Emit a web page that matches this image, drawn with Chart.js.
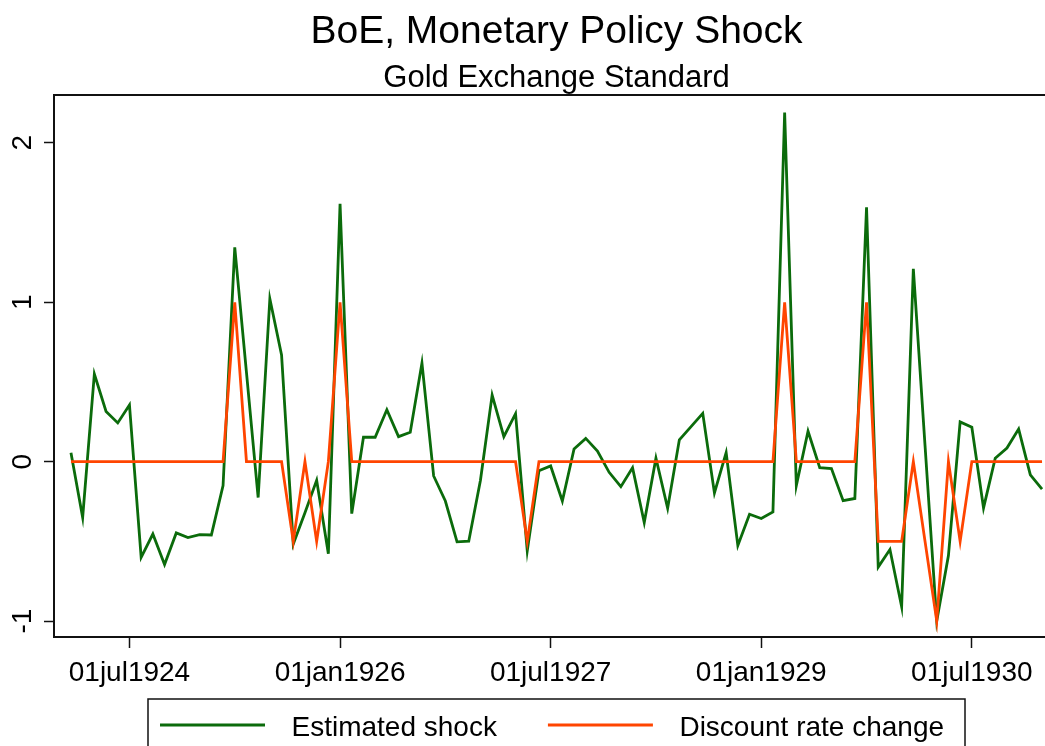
<!DOCTYPE html>
<html>
<head>
<meta charset="utf-8">
<script src="https://cdn.jsdelivr.net/npm/chart.js@4.4.1/dist/chart.umd.min.js"></script>
<style>
  html, body { margin: 0; padding: 0; background: #fff; overflow: hidden; }
  canvas { display: block; }
</style>
</head>
<body>
<canvas id="graph" width="1113" height="760"></canvas>
<script>
// one observation a month, index 0 = feb1924 ... 83 = jan1931
var titleText = 'BoE, Monetary Policy Shock';
var subtitleText = 'Gold Exchange Standard';

var shock = [
  0.056, -0.35, 0.55, 0.315, 0.243, 0.355, -0.60, -0.454, -0.645, -0.447,
  -0.476, -0.458, -0.46, -0.15, 1.344, 0.56, -0.225, 1.022, 0.67, -0.517,
  -0.32, -0.117, -0.578, 1.618, -0.326, 0.153, 0.153, 0.326, 0.157, 0.184,
  0.618, -0.09, -0.247, -0.503, -0.499, -0.117, 0.418, 0.157, 0.301, -0.56,
  -0.057, -0.027, -0.247, 0.079, 0.146, 0.067, -0.067, -0.157, -0.038, -0.382,
  0.022, -0.292, 0.137, 0.22, 0.303, -0.196, 0.056, -0.526, -0.33, -0.357,
  -0.315, 2.19, -0.15, 0.191, -0.038, -0.043, -0.245, -0.231, 1.596, -0.661,
  -0.551, -0.91, 1.21, 0.1, -1.0, -0.589, 0.249, 0.216, -0.29, 0.022,
  0.085, 0.204, -0.083, -0.173
];

var rateChange = [
  0, 0, 0, 0, 0, 0, 0, 0, 0, 0,
  0, 0, 0, 0, 1, 0, 0, 0, 0, -0.5,
  0, -0.5, 0, 1, 0, 0, 0, 0, 0, 0,
  0, 0, 0, 0, 0, 0, 0, 0, 0, -0.5,
  0, 0, 0, 0, 0, 0, 0, 0, 0, 0,
  0, 0, 0, 0, 0, 0, 0, 0, 0, 0,
  0, 1, 0, 0, 0, 0, 0, 0, 1, -0.5,
  -0.5, -0.5, 0, -0.5, -1, 0, -0.5, 0, 0, 0,
  0, 0, 0, 0
];

var xTicks = [5, 23, 41, 59, 77];
var xTickLabels = ['01jul1924', '01jan1926', '01jul1927', '01jan1929', '01jul1930'];
var yTicks = [-1, 0, 1, 2];

var FONT = "'Liberation Sans', Arial, Helvetica, sans-serif";
var GREEN = '#0b6b0b';
var ORANGE = '#ff4500';
var INK = '#111';

function points(values) {
  return values.map(function(v, i) {
    return { x: i, y: v };
  });
}

// plot box, titles and the boxed stata-like legend
var decor = {
  id: 'decor',
  afterDraw: function(chart) {
    var ctx = chart.ctx;
    var a = chart.chartArea;
    var cx = chart.width / 2;
    ctx.save();
    ctx.strokeStyle = INK;
    ctx.lineWidth = 2;
    ctx.strokeRect(a.left, a.top, a.right - a.left, a.bottom - a.top);

    ctx.fillStyle = '#000';
    ctx.textAlign = 'center';
    ctx.textBaseline = 'alphabetic';
    ctx.font = '39px ' + FONT;
    ctx.fillText(titleText, cx, 43);
    ctx.font = '31px ' + FONT;
    ctx.fillText(subtitleText, cx, 87);

    // legend
    ctx.lineWidth = 1.5;
    ctx.strokeRect(148, 699, 817, 52);
    ctx.font = '28px ' + FONT;
    ctx.textAlign = 'left';
    var x = 160;
    var sets = chart.data.datasets.slice().sort(function(p, q) {
      return p.legendOrder - q.legendOrder;
    });
    sets.forEach(function(ds) {
      ctx.strokeStyle = ds.borderColor;
      ctx.lineWidth = ds.borderWidth;
      ctx.beginPath();
      ctx.moveTo(x, 725);
      ctx.lineTo(x + 105, 725);
      ctx.stroke();
      ctx.fillText(ds.label, x + 131.5, 736);
      x += 131.5 + ctx.measureText(ds.label).width + 51;
    });
    ctx.restore();
  }
};

var tickFont = { family: FONT, size: 28 };

new Chart(document.getElementById('graph'), {
  type: 'line',
  data: {
    datasets: [{
      label: 'Estimated shock',
      data: points(shock),
      borderColor: GREEN,
      borderWidth: 2.8,
      pointRadius: 0,
      tension: 0,
      order: 1,
      legendOrder: 0
    }, {
      label: 'Discount rate change',
      data: points(rateChange),
      borderColor: ORANGE,
      borderWidth: 2.8,
      pointRadius: 0,
      tension: 0,
      order: 0,
      legendOrder: 1
    }]
  },
  options: {
    responsive: false,
    animation: false,
    devicePixelRatio: 1,
    layout: { padding: { top: 95, right: 54, bottom: 73, left: 0 } },
    plugins: {
      legend: { display: false },
      title: { display: false },
      tooltip: { enabled: false }
    },
    scales: {
      x: {
        type: 'linear',
        min: -1.45,
        max: 84.45,
        afterBuildTicks: function(s) {
          s.ticks = xTicks.map(function(v) { return { value: v }; });
        },
        afterFit: function(s) { s.height = 50; },
        ticks: {
          autoSkip: false,
          maxRotation: 0,
          padding: 8,
          color: '#000',
          font: tickFont,
          callback: function(v, i) { return xTickLabels[i]; }
        },
        grid: { drawOnChartArea: false, tickLength: 11, tickColor: INK, tickWidth: 1.5 },
        border: { color: INK, width: 2 }
      },
      y: {
        min: -1.1,
        max: 2.3,
        afterBuildTicks: function(s) {
          s.ticks = yTicks.map(function(v) { return { value: v }; });
        },
        afterFit: function(s) { s.width = 54; },
        ticks: {
          minRotation: 90,
          maxRotation: 90,
          crossAlign: 'center',
          padding: 8,
          color: '#000',
          font: tickFont,
          callback: function(v) { return String(v); }
        },
        grid: { drawOnChartArea: false, tickLength: 10, tickColor: INK, tickWidth: 1.5 },
        border: { color: INK, width: 2 }
      }
    }
  },
  plugins: [decor]
});
</script>
</body>
</html>
